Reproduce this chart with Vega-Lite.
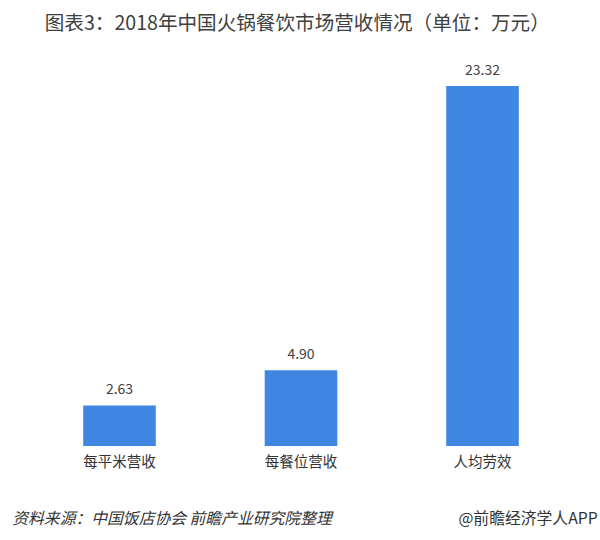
{
  "$schema": "https://vega.github.io/schema/vega-lite/v6.json",
  "autosize": "none",
  "width": 544.5,
  "height": 386,
  "padding": {"left": 28.75, "top": 60, "right": 26.75, "bottom": 94},
  "background": "white",
  "config": {
    "view": {"stroke": null},
    "font": "Noto Sans CJK SC"
  },
  "title": {
    "text": "图表3：2018年中国火锅餐饮市场营收情况（单位：万元）",
    "anchor": "start",
    "frame": "group",
    "dx": 16,
    "offset": 25,
    "fontSize": 19.6,
    "fontWeight": "normal",
    "color": "#404040",
    "font": "Noto Sans CJK SC"
  },
  "data": {
    "values": [
      {"category": "每平米营收", "value": 2.63},
      {"category": "每餐位营收", "value": 4.90},
      {"category": "人均劳效", "value": 23.32}
    ]
  },
  "encoding": {
    "x": {
      "field": "category",
      "type": "nominal",
      "sort": null,
      "scale": {"paddingInner": 0.6, "paddingOuter": 0.3},
      "axis": {
        "title": "资料来源：中国饭店协会 前瞻产业研究院整理",
        "titleAnchor": "start",
        "titleAlign": "left",
        "titleX": -17,
        "titleY": 72,
        "titleBaseline": "middle",
        "titleFontStyle": "italic",
        "titleFontWeight": "normal",
        "titleFontSize": 15.8,
        "titleColor": "#333333",
        "labelAngle": 0,
        "labelFontSize": 14.5,
        "labelColor": "#333333",
        "labelPadding": 9,
        "domain": false,
        "ticks": false
      }
    },
    "y": {
      "field": "value",
      "type": "quantitative",
      "scale": {"domain": [0, 25], "nice": false},
      "axis": {
        "orient": "right",
        "title": "@前瞻经济学人APP",
        "titleAngle": 0,
        "titleAlign": "right",
        "titleBaseline": "middle",
        "titleX": 24,
        "titleY": 458,
        "titleFontSize": 15.8,
        "titleFontWeight": "normal",
        "titleColor": "#333333",
        "labels": false,
        "ticks": false,
        "domain": false,
        "grid": false
      }
    }
  },
  "layer": [
    {"mark": {"type": "bar", "color": "#3f86e3"}},
    {
      "mark": {"type": "text", "baseline": "bottom", "dy": -8, "fontSize": 14, "color": "#404040"},
      "encoding": {"text": {"field": "value", "type": "quantitative", "format": ".2f"}}
    }
  ]
}
